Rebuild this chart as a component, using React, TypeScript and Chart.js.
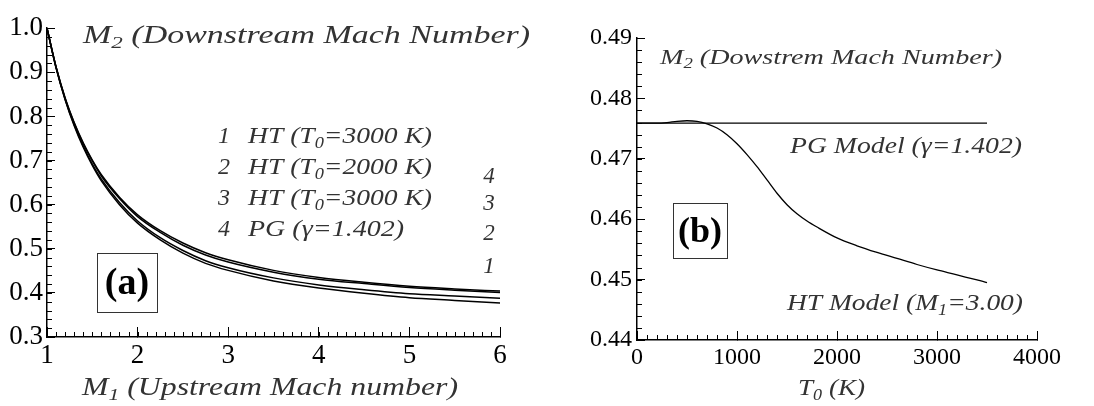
import React, { useEffect, useRef } from 'react';
import { Chart, registerables } from 'chart.js';

Chart.register(...registerables);

// ---------- Panel (a): M2 vs M1 ----------
const upstreamMach = [1, 1.1, 1.2, 1.3, 1.4, 1.5, 1.6, 1.8, 2.0, 2.25, 2.5, 2.75, 3.0, 3.5, 4.0, 4.5, 5.0, 5.5, 6.0];
const m2HT1 = [1.0, 0.910, 0.838, 0.779, 0.730, 0.689, 0.654, 0.600, 0.558, 0.520, 0.490, 0.467, 0.451, 0.427, 0.411, 0.399, 0.389, 0.383, 0.377];
const m2HT2 = [1.0, 0.911, 0.839, 0.781, 0.733, 0.692, 0.658, 0.605, 0.563, 0.525, 0.496, 0.473, 0.457, 0.434, 0.418, 0.407, 0.398, 0.393, 0.388];
const m2HT3 = [1.0, 0.912, 0.841, 0.785, 0.738, 0.699, 0.665, 0.614, 0.573, 0.537, 0.508, 0.486, 0.470, 0.447, 0.431, 0.421, 0.412, 0.406, 0.401];
const m2PG = [1.0, 0.912, 0.842, 0.786, 0.740, 0.701, 0.668, 0.617, 0.577, 0.541, 0.513, 0.491, 0.475, 0.451, 0.435, 0.424, 0.415, 0.409, 0.404];
const aXTicks = [1, 2, 3, 4, 5, 6];
const aYTicks = [0.3, 0.4, 0.5, 0.6, 0.7, 0.8, 0.9, 1.0];

// ---------- Panel (b): M2 vs T0 ----------
const stagnationTemp = [0, 200, 300, 400, 500, 600, 700, 800, 900, 1000, 1100, 1200, 1300, 1400, 1500, 1600, 1700, 1800, 2000, 2200, 2400, 2600, 2800, 3000, 3200, 3500];
const m2HTModel = [0.4759, 0.4759, 0.4760, 0.4762, 0.4763, 0.4762, 0.4758, 0.4751, 0.4740, 0.4725, 0.4707, 0.4687, 0.4665, 0.4643, 0.4624, 0.4609, 0.4597, 0.4587, 0.4569, 0.4556, 0.4545, 0.4535, 0.4525, 0.4516, 0.4508, 0.4495];
const pgTemp = [0, 3500];
const m2PGModel = [0.4759, 0.4759];
const bXTicks = [0, 1000, 2000, 3000, 4000];
const bYTicks = [0.44, 0.45, 0.46, 0.47, 0.48, 0.49];

// ---------- Texts ----------
const titleA = 'M|2| (Downstream Mach Number)';
const xTitleA = 'M|1| (Upstream Mach number)';
const legendNums = ['1', '2', '3', '4'];
const legendTexts = ['HT (T|0|=3000 K)', 'HT (T|0|=2000 K)', 'HT (T|0|=3000 K)', 'PG (γ=1.402)'];
const endLabels = ['4', '3', '2', '1'];
const tagA = '(a)';
const titleB = 'M|2| (Dowstrem Mach Number)';
const pgLabelB = 'PG Model (γ=1.402)';
const htLabelB = 'HT Model (M|1|=3.00)';
const xTitleB = 'T|0| (K)';
const tagB = '(b)';

const SERIF = '"Liberation Serif", "Times New Roman", Times, serif';

type Note = {
  text: string;
  x: number;
  y: number;
  size: number;
  width?: number;
  align?: 'left' | 'center';
  bold?: boolean;
  italic?: boolean;
  color?: string;
};

function segs(text: string) {
  const parts = text.split('|');
  return parts.map((t, i) => ({ t, sub: i % 2 === 1 })).filter((s) => s.t.length > 0);
}

function drawNote(ctx: CanvasRenderingContext2D, n: Note) {
  const italic = n.italic !== false;
  const style = `${italic ? 'italic ' : ''}${n.bold ? 'bold ' : ''}`;
  const pieces = segs(n.text);
  let natural = 0;
  const widths: number[] = [];
  for (const p of pieces) {
    const fs = p.sub ? Math.round(n.size * 0.68) : n.size;
    ctx.font = `${style}${fs}px ${SERIF}`;
    const w = ctx.measureText(p.t).width;
    widths.push(w);
    natural += w;
  }
  const sx = n.width ? n.width / natural : 1;
  ctx.save();
  let x0 = n.x;
  if (n.align === 'center') x0 = n.x - (natural * sx) / 2;
  ctx.translate(x0, n.y);
  ctx.scale(sx, 1);
  ctx.fillStyle = n.color || '#333';
  ctx.textBaseline = 'alphabetic';
  ctx.textAlign = 'left';
  let cx = 0;
  pieces.forEach((p, i) => {
    const fs = p.sub ? Math.round(n.size * 0.68) : n.size;
    ctx.font = `${style}${fs}px ${SERIF}`;
    ctx.fillText(p.t, cx, p.sub ? n.size * 0.2 : 0);
    cx += widths[i];
  });
  ctx.restore();
}

const notesPlugin = {
  id: 'notes',
  afterDraw(chart: any, _args: any, opts: any) {
    const ctx: CanvasRenderingContext2D = chart.ctx;
    const notes: Note[] = opts.items || [];
    notes.forEach((n) => drawNote(ctx, n));
    const boxes = opts.boxes || [];
    boxes.forEach((b: any) => {
      ctx.save();
      ctx.strokeStyle = '#333';
      ctx.lineWidth = 1;
      ctx.strokeRect(b.x + 0.5, b.y + 0.5, b.w, b.h);
      ctx.fillStyle = '#000';
      ctx.font = `bold ${b.size}px ${SERIF}`;
      ctx.textAlign = 'center';
      ctx.textBaseline = 'middle';
      ctx.fillText(b.text, b.x + b.w / 2, b.y + b.h / 2 + 2);
      ctx.restore();
    });
  },
};

const minorTicksPlugin = {
  id: 'minorTicks',
  afterDraw(chart: any, _args: any, opts: any) {
    const { ctx, chartArea, scales } = chart;
    ctx.save();
    ctx.strokeStyle = '#000';
    ctx.lineWidth = 1;
    const xs = scales.x;
    const ys = scales.y;
    const nx = Math.round((xs.max - xs.min) / opts.xStep);
    for (let i = 0; i <= nx; i++) {
      const px = Math.round(xs.getPixelForValue(xs.min + i * opts.xStep)) + 0.5;
      ctx.beginPath();
      ctx.moveTo(px, chartArea.bottom);
      ctx.lineTo(px, chartArea.bottom - opts.len);
      ctx.stroke();
    }
    const ny = Math.round((ys.max - ys.min) / opts.yStep);
    for (let i = 0; i <= ny; i++) {
      const py = Math.round(ys.getPixelForValue(ys.min + i * opts.yStep)) + 0.5;
      ctx.beginPath();
      ctx.moveTo(chartArea.left, py);
      ctx.lineTo(chartArea.left + opts.len, py);
      ctx.stroke();
    }
    ctx.restore();
  },
};

function pts(xs: number[], ys: number[]) {
  return xs.map((x, i) => ({ x, y: ys[i] }));
}

function lineDs(data: { x: number; y: number }[], width: number) {
  return {
    data,
    borderColor: '#000',
    borderWidth: width,
    pointRadius: 0,
    fill: false,
    cubicInterpolationMode: 'monotone' as const,
    clip: false as any,
  };
}

function axis(opts: {
  pos: 'bottom' | 'left';
  min: number;
  max: number;
  ticks: number[];
  size: number;
  fmt: (v: number) => string;
  fit: number;
  padding: number;
  tickLen: number;
}) {
  return {
    type: 'linear' as const,
    position: opts.pos,
    min: opts.min,
    max: opts.max,
    afterBuildTicks: (scale: any) => {
      scale.ticks = opts.ticks.map((v) => ({ value: v }));
    },
    afterFit: (scale: any) => {
      if (opts.pos === 'left') scale.width = opts.fit;
      else scale.height = opts.fit;
    },
    border: { display: true, color: '#000', width: 1.5 },
    grid: {
      drawOnChartArea: false,
      drawTicks: true,
      tickLength: -opts.tickLen,
      tickColor: '#000',
      tickWidth: 1,
    },
    ticks: {
      color: '#000',
      font: { family: SERIF, size: opts.size },
      padding: opts.padding,
      maxRotation: 0,
      autoSkip: false,
      callback: (v: any) => opts.fmt(Number(v)),
    },
  };
}

function PanelA() {
  const ref = useRef<HTMLCanvasElement>(null);
  useEffect(() => {
    const chart = new Chart(ref.current!, {
      type: 'line',
      data: {
        datasets: [
          lineDs(pts(upstreamMach, m2HT1), 1.5),
          lineDs(pts(upstreamMach, m2HT2), 1.5),
          lineDs(pts(upstreamMach, m2HT3), 1.5),
          lineDs(pts(upstreamMach, m2PG), 1.5),
        ],
      },
      options: {
        responsive: false,
        animation: false,
        events: [],
        layout: { padding: { left: 0, top: 18, right: 45, bottom: 0 } },
        scales: {
          x: axis({ pos: 'bottom', min: 1, max: 6, ticks: aXTicks, size: 27, fmt: (v) => String(v), fit: 69, padding: 13, tickLen: 10 }),
          y: axis({ pos: 'left', min: 0.3, max: 1.0, ticks: aYTicks, size: 27, fmt: (v) => v.toFixed(1), fit: 47, padding: 12, tickLen: 8 }),
        },
        plugins: {
          legend: { display: false },
          tooltip: { enabled: false },
          minorTicks: { xStep: 0.1, yStep: 0.02, len: 5 },
          notes: {
            items: [
              { text: titleA, x: 83, y: 43, size: 25, width: 447 },
              ...legendNums.map((t, i) => ({ text: t, x: 218, y: 143 + i * 31, size: 24 })),
              ...legendTexts.map((t, i) => ({ text: t, x: 248, y: 143 + i * 31, size: 24, width: i < 3 ? 184 : 156 })),
              ...endLabels.map((t, i) => ({ text: t, x: 489, y: [183, 210, 240, 273][i], size: 23, align: 'center' })),
              { text: xTitleA, x: 82, y: 395, size: 25, width: 376 },
            ],
            boxes: [{ x: 97, y: 253, w: 60, h: 59, text: tagA, size: 38 }],
          },
        } as any,
      },
      plugins: [minorTicksPlugin, notesPlugin],
    });
    return () => chart.destroy();
  }, []);
  return <canvas ref={ref} width={545} height={406} style={{ position: 'absolute', left: 0, top: 0, width: 545, height: 406 }} />;
}

function PanelB() {
  const ref = useRef<HTMLCanvasElement>(null);
  useEffect(() => {
    const chart = new Chart(ref.current!, {
      type: 'line',
      data: {
        datasets: [
          lineDs(pts(pgTemp, m2PGModel), 1.3),
          lineDs(pts(stagnationTemp, m2HTModel), 1.3),
        ],
      },
      options: {
        responsive: false,
        animation: false,
        events: [],
        layout: { padding: { left: 0, top: 38, right: 57, bottom: 0 } },
        scales: {
          x: axis({ pos: 'bottom', min: 0, max: 4000, ticks: bXTicks, size: 24, fmt: (v) => String(v), fit: 66, padding: 12, tickLen: 9 }),
          y: axis({ pos: 'left', min: 0.44, max: 0.49, ticks: bYTicks, size: 24, fmt: (v) => v.toFixed(2), fit: 92, padding: 13, tickLen: 8 }),
        },
        plugins: {
          legend: { display: false },
          tooltip: { enabled: false },
          minorTicks: { xStep: 100, yStep: 0.002, len: 5 },
          notes: {
            items: [
              { text: titleB, x: 115, y: 64, size: 21, width: 342 },
              { text: pgLabelB, x: 245, y: 153, size: 24, width: 232 },
              { text: htLabelB, x: 242, y: 310, size: 24, width: 236 },
              { text: xTitleB, x: 253, y: 395, size: 24, width: 67 },
            ],
            boxes: [{ x: 128, y: 203, w: 54, h: 55, text: tagB, size: 36 }],
          },
        } as any,
      },
      plugins: [minorTicksPlugin, notesPlugin],
    });
    return () => chart.destroy();
  }, []);
  return <canvas ref={ref} width={549} height={406} style={{ position: 'absolute', left: 545, top: 0, width: 549, height: 406 }} />;
}

export default function App() {
  return (
    <div style={{ position: 'absolute', left: 0, top: 0, width: 1094, height: 406, background: '#fff', overflow: 'hidden' }}>
      <PanelA />
      <PanelB />
    </div>
  );
}
